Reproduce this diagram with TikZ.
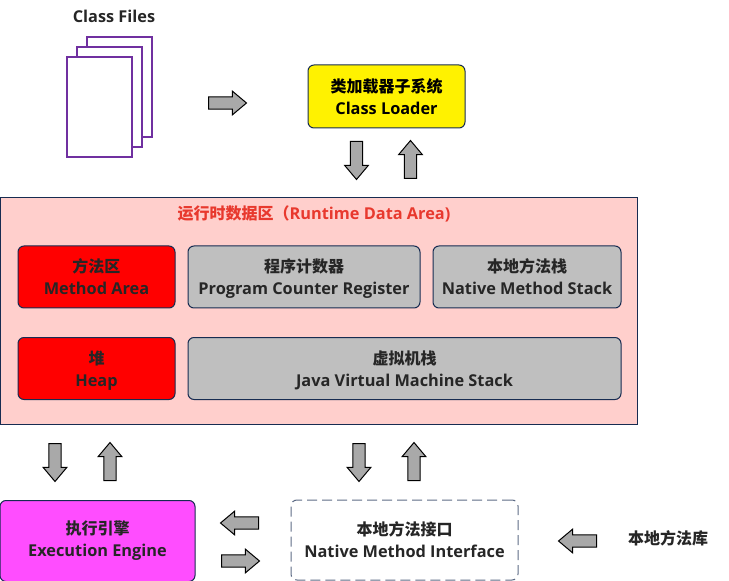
\documentclass[tikz,border=0pt]{standalone}
\usepackage{fontspec}
\setmainfont[Scale=1.02]{Open Sans}
\newfontfamily\cjk{Noto Sans CJK SC}
\usetikzlibrary{shapes.arrows}
\definecolor{boxline}{HTML}{172C51}
\definecolor{pageline}{HTML}{7030A0}
\definecolor{areafill}{HTML}{FFCFCC}
\definecolor{arrowfill}{HTML}{A9A9A9}
\definecolor{greybox}{HTML}{BFBFBF}
\definecolor{enginefill}{HTML}{FF4DFF}
\definecolor{titlered}{HTML}{E8392E}
\tikzset{
	every node/.style={font=\bfseries\fontsize{12}{16.5}\selectfont, text=black!85, align=center, inner sep=0pt},
	roundbox/.style={draw=boxline, rounded corners=4.5pt, line width=0.75pt, minimum width=#1*0.75pt},
	redbox/.style={roundbox=157, fill=red, minimum height=46.5pt, text depth=0pt},
	greyrow/.style={roundbox=#1, fill=greybox, minimum height=46.5pt, text depth=0pt},
	pagebox/.style={draw=pageline, fill=white, line width=1.5pt, minimum width=48.75pt, minimum height=75pt},
	blockarrow/.style={draw=black, fill=arrowfill, line width=0.75pt, single arrow, anchor=tail, inner sep=4.2pt, minimum height=28.5pt, single arrow head extend=4.3pt, single arrow tip angle=80, shape border rotate=#1}
}
\begin{document}
\begin{tikzpicture}[x=0.75pt,y=-0.75pt]
	\useasboundingbox (0,0) rectangle (729,581);
	% class files
	\node (classfiles) at (114,16) {Class Files};
	\node [pagebox] (pagea) at (119.5,87) {};
	\node [pagebox] (pageb) at (109.5,97) {};
	\node [pagebox] (pagec) at (99.5,107) {};
	\node [blockarrow=0] (arrowfiles) at (208,103) {};
	% class loader
	\node [roundbox=157, fill=yellow, minimum height=47.25pt, text=black] (loader) at (386.5,96.5) {{\cjk 类加载器子系统}\\Class Loader};
	\node [blockarrow=270] (arrowdowna) at (356.5,141) {};
	\node [blockarrow=90] (arrowupa) at (410.5,179) {};
	% runtime data area
	\node [draw=boxline, fill=areafill, line width=0.75pt, minimum width=478pt, minimum height=170.5pt] (area) at (319,311) {};
	\node [text=titlered] (areatitle) at (314,213.5) {{\cjk 运行时数据区（}Runtime Data Area)};
	\node [redbox] (method) at (96.5,277) {{\cjk 方法区}\\Method Area};
	\node [greyrow=232] (counter) at (304,277) {{\cjk 程序计数器}\\Program Counter Register};
	\node [greyrow=188] (nativestack) at (527,277) {{\cjk 本地方法栈}\\Native Method Stack};
	\node [redbox] (heap) at (96.5,368.5) {{\cjk 堆}\\Heap};
	\node [greyrow=433] (jvmstack) at (404.5,368.5) {{\cjk 虚拟机栈}\\Java Virtual Machine Stack};
	\node [blockarrow=270] (arrowdownb) at (55,443) {};
	\node [blockarrow=90] (arrowupb) at (110,481) {};
	\node [blockarrow=270] (arrowdownc) at (359,443) {};
	\node [blockarrow=90] (arrowupc) at (414,481) {};
	% engine and native interface
	\node [roundbox=195, fill=enginefill, minimum height=60.75pt] (engine) at (97.5,541) {{\cjk 执行引擎}\\Execution Engine};
	\node [roundbox=227, draw=boxline!70, dashed, dash pattern=on 7.5pt off 3.75pt, minimum height=60pt] (interface) at (404.5,540) {{\cjk 本地方法接口}\\Native Method Interface};
	\node [blockarrow=180] (arrowleft) at (259,523) {};
	\node [blockarrow=0] (arrowright) at (221,561) {};
	\node [blockarrow=180] (arrowlib) at (597,541) {};
	\node (library) at (668,538) {\cjk 本地方法库};
\end{tikzpicture}
\end{document}
